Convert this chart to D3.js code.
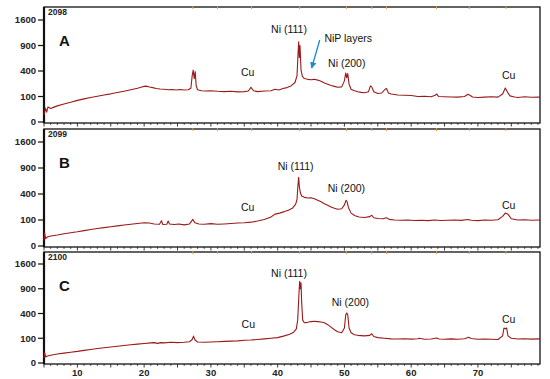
<!DOCTYPE html>
<html>
<head>
<meta charset="utf-8">
<script src="https://cdn.jsdelivr.net/npm/d3@7"></script>
<style>
  body { margin: 0; background: #fff; }
  svg { display: block; }
  .tick-lbl { font-family: "Liberation Sans", Arial, sans-serif; font-weight: bold; font-size: 9.5px; fill: #222; }
  .ann { font-family: "Liberation Sans", Arial, sans-serif; font-size: 10.5px; fill: #111; }
</style>
</head>
<body>
<svg width="550" height="379"></svg>
<script>
// XRD scans, [2theta, counts]
var scanA = [[5,8],[5.2,30],[5.4,15],[5.6,35],[6,28],[6.5,34],[7,40],[8,50],[9,60],[10,72],[11,82],[12,92],[13,102],[14,112],[15,122],[16,134],[17,146],[18,160],[19,175],[19.8,192],[20.3,198],[20.8,188],[21.3,182],[21.8,172],[22.4,168],[23,165],[23.6,160],[24.2,163],[24.8,158],[25.4,162],[26,158],[26.6,160],[27,175],[27.2,330],[27.35,415],[27.5,290],[27.65,390],[27.8,200],[28,160],[28.6,150],[29.2,148],[30,150],[31,145],[32,142],[33,145],[34,140],[35,142],[35.6,148],[36,185],[36.4,150],[37,142],[38,148],[39,150],[39.6,165],[40.2,158],[40.8,172],[41.4,182],[42,200],[42.6,240],[42.9,330],[43.05,700],[43.15,990],[43.25,640],[43.35,900],[43.5,420],[43.7,320],[44,290],[44.5,280],[45,275],[45.5,280],[46,270],[46.5,255],[47,235],[47.5,220],[48,205],[48.5,195],[49,185],[49.6,190],[50,260],[50.2,370],[50.35,300],[50.5,360],[50.7,220],[51,165],[51.5,150],[52,140],[52.5,135],[53,132],[53.6,140],[53.9,200],[54.1,190],[54.4,140],[55,125],[55.6,130],[56.1,165],[56.3,172],[56.6,130],[57,120],[58,112],[59,110],[60,108],[61,100],[62,102],[63,98],[63.6,110],[63.85,120],[64.1,100],[65,98],[66,96],[67,95],[68,100],[68.5,118],[68.8,110],[69.2,96],[70,92],[71,95],[72,98],[73,95],[73.7,120],[74.1,178],[74.4,140],[74.8,105],[75.5,96],[76,92],[77,98],[78,94],[79.3,95]];

var scanB = [[5,5],[5.1,25],[5.25,8],[5.5,12],[6,15],[7,18],[8,22],[9,26],[10,30],[11,35],[12,40],[13,45],[14,50],[15,55],[16,60],[17,65],[18,70],[19,75],[20,80],[20.8,78],[21.5,72],[22.3,70],[22.6,95],[22.8,68],[23.4,70],[23.6,92],[23.8,72],[24.5,68],[25.2,72],[26,66],[26.8,72],[27.3,105],[27.6,80],[28.2,72],[29,70],[30,74],[31,70],[32,72],[33,75],[34,78],[35,80],[36,84],[37,92],[38,104],[39,125],[39.6,150],[40.3,160],[41,175],[41.6,190],[42.2,210],[42.7,260],[42.9,320],[43.05,560],[43.15,700],[43.25,520],[43.4,420],[43.6,370],[44,350],[44.5,340],[45,345],[45.5,330],[46,310],[46.5,290],[47,265],[47.5,245],[48,225],[48.5,210],[49,200],[49.6,205],[50,250],[50.25,310],[50.4,290],[50.6,220],[51,160],[51.6,135],[52.2,125],[53,120],[53.8,128],[54.1,140],[54.4,118],[55,112],[55.8,110],[56.3,118],[56.7,105],[57.5,100],[58.5,98],[59.5,100],[60.5,96],[61.5,98],[62.5,95],[63.5,100],[64.5,96],[65.5,98],[66.5,100],[67.5,97],[68.5,104],[69,98],[70,95],[71,100],[72,98],[73,102],[73.7,130],[74.1,160],[74.5,150],[75,110],[76,100],[77,102],[78,98],[79.3,100]];

var scanC = [[5,4],[5.1,18],[5.25,6],[5.5,8],[6,10],[7,13],[8,16],[9,19],[10,22],[11,26],[12,30],[13,34],[14,38],[15,42],[16,46],[17,50],[18,54],[19,58],[20,62],[21,66],[21.5,68],[22,63],[22.5,68],[23,66],[24,70],[25,68],[26,70],[26.8,74],[27.2,90],[27.4,118],[27.6,88],[28,72],[29,70],[30,72],[31,74],[32,76],[33,78],[34,80],[35,84],[36,86],[37,90],[38,95],[39,100],[40,105],[41,120],[41.8,135],[42.4,155],[42.8,190],[43,300],[43.2,800],[43.3,1090],[43.4,900],[43.5,1050],[43.6,600],[43.75,300],[44,265],[44.5,270],[45,280],[45.5,285],[46,280],[46.5,275],[47,265],[47.5,240],[48,210],[48.5,180],[49,160],[49.6,150],[50,200],[50.2,380],[50.35,410],[50.5,380],[50.7,200],[51,150],[51.5,130],[52,125],[53,120],[53.8,125],[54.1,140],[54.4,115],[55,105],[56,100],[57,95],[58,94],[59,96],[60,93],[61,96],[61.2,100],[62,92],[63,94],[63.8,102],[64.2,94],[65,92],[66,95],[67,92],[68,96],[68.6,108],[69,98],[70,92],[71,94],[72,92],[73,90],[73.7,120],[73.9,200],[74.1,190],[74.3,200],[74.5,120],[75,100],[76,94],[77,96],[78,93],[79.3,95]];

var yTicks = [0, 100, 400, 900, 1600];
var xTicks = [10, 20, 30, 40, 50, 60, 70];
var peakMarks = [27.3, 31, 36.1, 43.3, 50.3, 54.1, 56.3, 63.8, 68.7, 74.2];
var panelNames = ["A", "B", "C"];
var scanIds = ["2098", "2099", "2100"];

// labels per panel: [text, 2theta, counts(position)]
var labelsA = [["Cu", 35.5, 325], ["Ni (111)", 41.7, 1218], ["Ni (200)", 50.35, 465], ["Cu", 74.6, 285]];
var labelsB = [["Cu", 35.5, 181], ["Ni (111)", 42.7, 854], ["Ni (200)", 50.3, 431], ["Cu", 74.6, 202]];
var labelsC = [["Cu", 35.6, 200], ["Ni (111)", 41.7, 1207], ["Ni (200)", 50.9, 530], ["Cu", 74.6, 261]];

var svg = d3.select("svg");
var left = 44, right = 540;

var x = d3.scaleLinear().domain([5, 79.3]).range([left, right]);

var panels = [
  {top: 7, zero: 122, y1600: 20, bottom: 123, data: scanA, labels: labelsA},
  {top: 129, zero: 246, y1600: 142, bottom: 247, data: scanB, labels: labelsB},
  {top: 252, zero: 363, y1600: 264, bottom: 364, data: scanC, labels: labelsC}
];

panels.forEach(function(p, i) {
  var y = d3.scaleSqrt().domain([0, 1600]).range([p.zero, p.y1600]);
  var g = svg.append("g");

  // frame
  g.append("rect")
    .attr("x", left).attr("y", p.top)
    .attr("width", right - left).attr("height", p.bottom - p.top)
    .attr("fill", "none").attr("stroke", "#111").attr("stroke-width", 1.3);
  g.append("line")
    .attr("x1", left).attr("x2", left).attr("y1", p.top).attr("y2", p.bottom)
    .attr("stroke", "#111").attr("stroke-width", 2.2);

  // y ticks
  yTicks.forEach(function(t) {
    g.append("line")
      .attr("x1", left - 6).attr("x2", left).attr("y1", y(t)).attr("y2", y(t))
      .attr("stroke", "#111").attr("stroke-width", 1.2);
    g.append("text").attr("class", "tick-lbl")
      .attr("x", left - 8).attr("y", y(t) + 3.4)
      .attr("text-anchor", "end").text(t);
  });

  // bottom minor ticks
  d3.range(5, 80, 1).forEach(function(t) {
    var len = t % 5 === 0 ? 3.5 : 1.8;
    g.append("line")
      .attr("x1", x(t)).attr("x2", x(t)).attr("y1", p.bottom).attr("y2", p.bottom + len)
      .attr("stroke", "#222").attr("stroke-width", 0.9);
  });

  // peak position marks on the top edge
  peakMarks.forEach(function(t) {
    g.append("line")
      .attr("x1", x(t)).attr("x2", x(t)).attr("y1", p.top - 1).attr("y2", p.top + 2)
      .attr("stroke", "#d8a050").attr("stroke-width", 1);
  });

  // scan trace
  var line = d3.line()
    .x(function(d) { return x(d[0]); })
    .y(function(d) { return y(d[1]); });
  g.append("path").datum(p.data)
    .attr("d", line)
    .attr("fill", "none").attr("stroke", "#9a1a1a").attr("stroke-width", 1.1)
    .attr("stroke-linejoin", "round");

  // ids and panel letters
  g.append("text")
    .attr("x", left + 4).attr("y", p.top + 8)
    .attr("font-family", "Liberation Sans, Arial, sans-serif")
    .attr("font-weight", "bold").attr("font-size", 8.5).attr("fill", "#222")
    .text(scanIds[i]);
  g.append("text")
    .attr("x", 59).attr("y", p.top + 39)
    .attr("font-family", "Liberation Sans, Arial, sans-serif")
    .attr("font-weight", "bold").attr("font-size", 15).attr("fill", "#111")
    .text(panelNames[i]);

  p.labels.forEach(function(l) {
    g.append("text").attr("class", "ann")
      .attr("x", x(l[1])).attr("y", y(l[2]))
      .attr("text-anchor", "middle").text(l[0]);
  });
});

// bottom x axis labels
xTicks.forEach(function(t) {
  svg.append("text").attr("class", "tick-lbl")
    .attr("x", x(t)).attr("y", 376)
    .attr("text-anchor", "middle").text(t);
});

// NiP layers annotation in panel A
var yA = d3.scaleSqrt().domain([0, 1600]).range([panels[0].zero, panels[0].y1600]);
svg.append("defs").append("marker")
  .attr("id", "arr").attr("viewBox", "0 -5 10 10")
  .attr("refX", 9).attr("refY", 0)
  .attr("markerWidth", 5).attr("markerHeight", 5)
  .attr("orient", "auto")
  .append("path").attr("d", "M0,-5L10,0L0,5").attr("fill", "#1a8ad4");
svg.append("line")
  .attr("x1", x(46.3)).attr("y1", yA(1034))
  .attr("x2", x(45.1)).attr("y2", yA(449))
  .attr("stroke", "#1a8ad4").attr("stroke-width", 1.3)
  .attr("marker-end", "url(#arr)");
svg.append("text").attr("class", "ann")
  .attr("x", x(47.0)).attr("y", yA(986))
  .text("NiP layers");
</script>
</body>
</html>
